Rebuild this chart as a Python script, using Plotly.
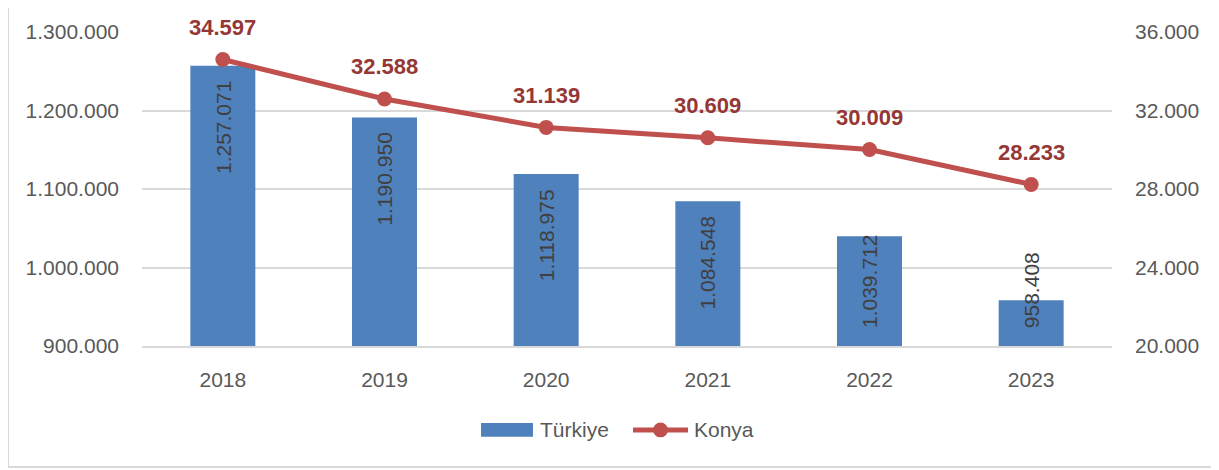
import plotly.graph_objects as go

years = ["2018", "2019", "2020", "2021", "2022", "2023"]
turkiye = [1257071, 1190950, 1118975, 1084548, 1039712, 958408]
konya = [34597, 32588, 31139, 30609, 30009, 28233]
left_ticks = [900000, 1000000, 1100000, 1200000, 1300000]
right_ticks = [20000, 24000, 28000, 32000, 36000]
series_names = ["Türkiye", "Konya"]


def fmt(v):
    return f"{v:,}".replace(",", ".")


# page is offset by the 8px body margin; the figure is sized to fit the window
OFF = 8
W, H = 1219 - OFF, 470 - OFF
ML, MT = 142 - OFF, 28 - OFF
MR, MB = W - (1112 - OFF), H - (346 - OFF)
Y0, Y1 = left_ticks[0], left_ticks[-1]
plot_h = H - MT - MB
pw = W - ML - MR
upp = (Y1 - Y0) / plot_h

FONT = "Liberation Sans"
GRAY = "#595959"
BLUE = "#4F81BD"
RED = "#C0504D"
DARKRED = "#953735"


def px_x(page_x):
    return (page_x - OFF - ML) / pw


def px_y(page_y):
    return (H - MB - (page_y - OFF)) / plot_h


fig = go.Figure()
fig.add_trace(go.Bar(
    x=years, y=turkiye, name=series_names[0], marker=dict(color=BLUE, line=dict(width=0)),
    yaxis="y", hoverinfo="skip", showlegend=False,
))
fig.add_trace(go.Scatter(
    x=years, y=konya, name=series_names[1], mode="lines+markers",
    line=dict(color=RED, width=5), marker=dict(color=RED, size=15),
    yaxis="y2", hoverinfo="skip", showlegend=False,
))

annotations = []
for i, v in enumerate(turkiye):
    txt = fmt(v)
    L = 11.1 * len(txt)
    bar_h = (v - Y0) / upp
    if bar_h - 13 - L >= 16:
        annotations.append(dict(x=i, y=v, xref="x", yref="y", text=txt, textangle=-90,
                                yanchor="top", yshift=-13, showarrow=False,
                                font=dict(family=FONT, size=21, color="#404040")))
    else:
        annotations.append(dict(x=i, y=Y0, xref="x", yref="y", text=txt, textangle=-90,
                                yanchor="bottom", yshift=16, showarrow=False,
                                font=dict(family=FONT, size=21, color="#404040")))

for i, v in enumerate(konya):
    annotations.append(dict(x=i, y=v, xref="x", yref="y2", text=f"<b>{fmt(v)}</b>",
                            yshift=32, showarrow=False,
                            font=dict(family=FONT, size=22, color=DARKRED)))

# custom legend (Excel-like swatches)
annotations.append(dict(x=px_x(538), y=px_y(431), xref="paper", yref="paper",
                        text=series_names[0], xanchor="left", yanchor="middle", showarrow=False,
                        font=dict(family=FONT, size=21, color=GRAY)))
annotations.append(dict(x=px_x(692), y=px_y(431), xref="paper", yref="paper",
                        text=series_names[1], xanchor="left", yanchor="middle", showarrow=False,
                        font=dict(family=FONT, size=21, color=GRAY)))

shapes = [
    dict(type="rect", xref="paper", yref="paper",
         x0=px_x(OFF), x1=px_x(1217), y0=px_y(468.5), y1=px_y(0),
         line=dict(color="#D9D9D9", width=2), fillcolor="rgba(0,0,0,0)", layer="below"),
    dict(type="rect", xref="paper", yref="paper",
         x0=px_x(481), x1=px_x(533), y0=px_y(438), y1=px_y(424),
         line=dict(width=0), fillcolor=BLUE),
    dict(type="line", xref="paper", yref="paper",
         x0=px_x(633), x1=px_x(688), y0=px_y(431), y1=px_y(431),
         line=dict(color=RED, width=5)),
    dict(type="circle", xref="paper", yref="paper",
         x0=px_x(653), x1=px_x(668), y0=px_y(438.5), y1=px_y(423.5),
         line=dict(width=0), fillcolor=RED),
]

fig.update_layout(
    width=W, height=H,
    margin=dict(l=ML, r=MR, t=MT, b=MB),
    paper_bgcolor="white", plot_bgcolor="white",
    separators=",.",
    font=dict(family=FONT, size=21, color=GRAY),
    bargap=0.598,
    showlegend=False,
    xaxis=dict(type="category", range=[-0.5, len(years) - 0.5], autorange=False,
               showline=True, linecolor="#D9D9D9", linewidth=1.5,
               showgrid=False, ticks="", ticklabelstandoff=14,
               tickfont=dict(family=FONT, size=21, color=GRAY)),
    yaxis=dict(range=[Y0, Y1], tickvals=left_ticks, tickformat=",d",
               showgrid=True, gridcolor="#D9D9D9", gridwidth=1.5,
               zeroline=False, showline=False, ticks="", ticklabelstandoff=22,
               tickfont=dict(family=FONT, size=21, color=GRAY)),
    yaxis2=dict(range=[right_ticks[0], right_ticks[-1]], tickvals=right_ticks, tickformat=",d",
                overlaying="y", side="right", showgrid=False, zeroline=False,
                showline=False, ticks="", ticklabelstandoff=22,
                tickfont=dict(family=FONT, size=21, color=GRAY)),
    annotations=annotations,
    shapes=shapes,
)

fig.write_html("out.html")
